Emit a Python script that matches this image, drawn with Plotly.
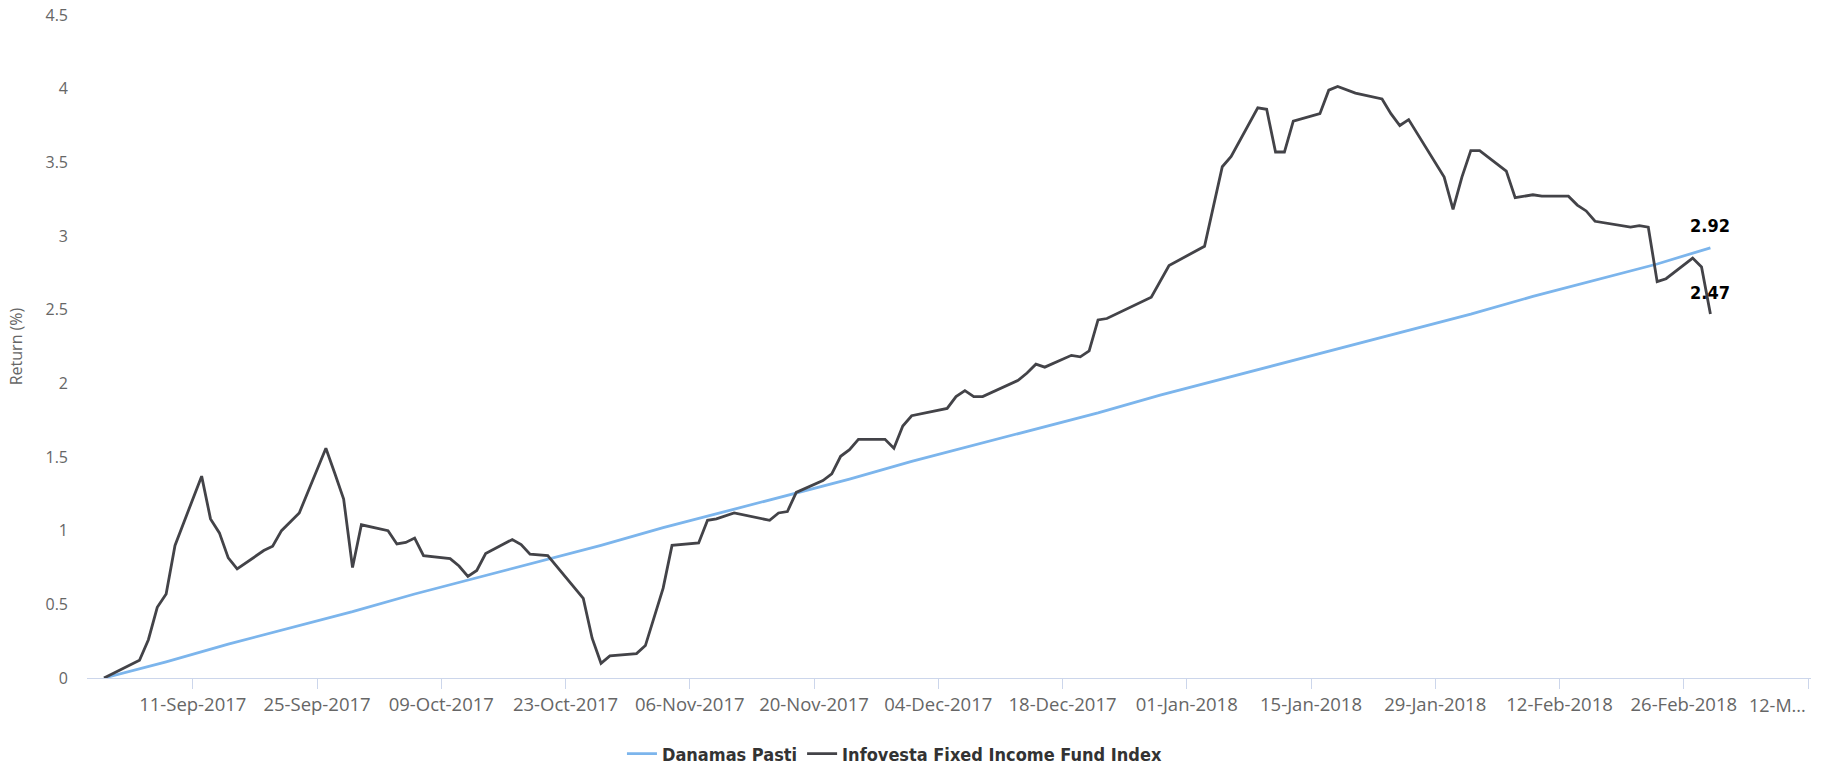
import plotly.graph_objects as go

# Danamas Pasti cumulative return (%)
fund_dates = [
    "2017-09-01", "2017-09-08", "2017-09-15", "2017-09-22", "2017-09-29",
    "2017-10-06", "2017-10-13", "2017-10-20", "2017-10-27", "2017-11-03",
    "2017-11-10", "2017-11-17", "2017-11-24", "2017-12-01", "2017-12-08",
    "2017-12-15", "2017-12-22", "2017-12-29", "2018-01-05", "2018-01-12",
    "2018-01-19", "2018-01-26", "2018-02-02", "2018-02-09", "2018-02-16",
    "2018-02-23", "2018-03-01",
]
fund_return = [
    0.00, 0.11, 0.23, 0.34, 0.45,
    0.57, 0.68, 0.79, 0.90, 1.02,
    1.13, 1.24, 1.35, 1.47, 1.58,
    1.69, 1.80, 1.92, 2.03, 2.14,
    2.25, 2.36, 2.47, 2.59, 2.70,
    2.81, 2.92,
]

# Infovesta Fixed Income Fund Index cumulative return (%)
index_dates = [
    "2017-09-01", "2017-09-05", "2017-09-06", "2017-09-07", "2017-09-08",
    "2017-09-09", "2017-09-12", "2017-09-13", "2017-09-14", "2017-09-15",
    "2017-09-16", "2017-09-19", "2017-09-20", "2017-09-21", "2017-09-23",
    "2017-09-26", "2017-09-27", "2017-09-28", "2017-09-29", "2017-09-30",
    "2017-10-03", "2017-10-04", "2017-10-05", "2017-10-06", "2017-10-07",
    "2017-10-10", "2017-10-11", "2017-10-12", "2017-10-13", "2017-10-14",
    "2017-10-17", "2017-10-18", "2017-10-19", "2017-10-21", "2017-10-25",
    "2017-10-26", "2017-10-27", "2017-10-28", "2017-10-31", "2017-11-01",
    "2017-11-03", "2017-11-04", "2017-11-07", "2017-11-08", "2017-11-09",
    "2017-11-11", "2017-11-15", "2017-11-16", "2017-11-17", "2017-11-18",
    "2017-11-21", "2017-11-22", "2017-11-23", "2017-11-24", "2017-11-25",
    "2017-11-28", "2017-11-29", "2017-11-30", "2017-12-01", "2017-12-05",
    "2017-12-06", "2017-12-07", "2017-12-08", "2017-12-09", "2017-12-13",
    "2017-12-14", "2017-12-15", "2017-12-16", "2017-12-19", "2017-12-20",
    "2017-12-21", "2017-12-22", "2017-12-23", "2017-12-28", "2017-12-30",
    "2018-01-03", "2018-01-05", "2018-01-06", "2018-01-09", "2018-01-10",
    "2018-01-11", "2018-01-12", "2018-01-13", "2018-01-16", "2018-01-17",
    "2018-01-18", "2018-01-20", "2018-01-23", "2018-01-24", "2018-01-25",
    "2018-01-26", "2018-01-30", "2018-01-31", "2018-02-01", "2018-02-02",
    "2018-02-03", "2018-02-06", "2018-02-07", "2018-02-09", "2018-02-10",
    "2018-02-13", "2018-02-14", "2018-02-15", "2018-02-16", "2018-02-20",
    "2018-02-21", "2018-02-22", "2018-02-23", "2018-02-24", "2018-02-27",
    "2018-02-28", "2018-03-01",
]
index_return = [
    0.00, 0.12, 0.26, 0.48, 0.57,
    0.90, 1.37, 1.08, 0.985, 0.815,
    0.74, 0.865, 0.894, 1.00, 1.12,
    1.56, 1.39, 1.215, 0.75, 1.04,
    1.00, 0.91, 0.92, 0.95, 0.83,
    0.81, 0.76, 0.69, 0.73, 0.845,
    0.94, 0.905, 0.84, 0.83, 0.54,
    0.27, 0.10, 0.15, 0.166, 0.22,
    0.61, 0.90, 0.917, 1.07, 1.08,
    1.12, 1.07, 1.12, 1.13, 1.26,
    1.34, 1.385, 1.505, 1.55, 1.62,
    1.62, 1.56, 1.71, 1.78, 1.83,
    1.91, 1.95, 1.91, 1.91, 2.02,
    2.07, 2.13, 2.11, 2.19, 2.18,
    2.22, 2.43, 2.44, 2.585, 2.80,
    2.93, 3.47, 3.54, 3.87, 3.86,
    3.57, 3.57, 3.78, 3.83, 3.99,
    4.015, 3.97, 3.93, 3.83, 3.75,
    3.79, 3.40, 3.18, 3.40, 3.58,
    3.58, 3.44, 3.26, 3.28, 3.27,
    3.27, 3.21, 3.17, 3.10, 3.06,
    3.07, 3.06, 2.69, 2.71, 2.85,
    2.79, 2.47,
]

# x-axis ticks (every two weeks)
tick_dates = [
    "2017-09-11", "2017-09-25", "2017-10-09", "2017-10-23", "2017-11-06",
    "2017-11-20", "2017-12-04", "2017-12-18", "2018-01-01", "2018-01-15",
    "2018-01-29", "2018-02-12", "2018-02-26", "2018-03-12",
]
tick_labels = [
    "11-Sep-2017", "25-Sep-2017", "09-Oct-2017", "23-Oct-2017", "06-Nov-2017",
    "20-Nov-2017", "04-Dec-2017", "18-Dec-2017", "01-Jan-2018", "15-Jan-2018",
    "29-Jan-2018", "12-Feb-2018", "26-Feb-2018", "",
]
last_tick_label = "12-M..."

FUND_COLOR = "#7cb5ec"
INDEX_COLOR = "#434348"
AXIS_COLOR = "#ccd6eb"
LABEL_COLOR = "#666666"
NARROW = "Liberation Sans Narrow, DejaVu Sans Condensed, Arial Narrow, sans-serif"

fig = go.Figure()
fig.add_trace(go.Scatter(
    x=fund_dates, y=fund_return, name="Danamas Pasti", mode="lines",
    line=dict(color=FUND_COLOR, width=2.8),
))
fig.add_trace(go.Scatter(
    x=index_dates, y=index_return, name="Infovesta Fixed Income Fund Index",
    mode="lines", line=dict(color=INDEX_COLOR, width=2.8),
))

# value labels at the last point of each series
for xs, ys in ((fund_dates, fund_return), (index_dates, index_return)):
    fig.add_annotation(
        x=xs[-1], y=ys[-1], text=f"{ys[-1]:.2f}", showarrow=False,
        yshift=22, font=dict(family=NARROW, size=18, color="#000000", weight="bold"),
    )

# truncated label for the last tick at the right edge
fig.add_annotation(
    x=tick_dates[-1], xref="x", y=0, yref="paper", yanchor="top", xanchor="right",
    yshift=-13, text=last_tick_label, showarrow=False,
    font=dict(family="Open Sans", size=18, color=LABEL_COLOR),
)

fig.update_layout(
    width=1825, height=765,
    margin=dict(l=87, r=14, t=15, b=87, autoexpand=False),
    paper_bgcolor="white", plot_bgcolor="white",
    showlegend=True,
    legend=dict(
        orientation="h", xref="container", x=0.3408, xanchor="left",
        yref="container", y=0.0144, yanchor="middle",
        font=dict(family=NARROW, size=18, color="#333333", weight="bold"),
        itemwidth=30,
    ),
    xaxis=dict(
        type="date", automargin=False,
        range=["2017-08-30 02:00", "2018-03-12 08:00"],
        tickvals=tick_dates, ticktext=tick_labels,
        showgrid=False, zeroline=False,
        showline=True, linecolor=AXIS_COLOR, linewidth=1,
        ticks="outside", ticklen=10, tickcolor=AXIS_COLOR, tickwidth=1,
        tickfont=dict(family="Open Sans", size=18.5, color=LABEL_COLOR),
    ),
    yaxis=dict(
        automargin=False,
        range=[0, 4.5], tickvals=[0, 0.5, 1, 1.5, 2, 2.5, 3, 3.5, 4, 4.5],
        showgrid=False, zeroline=False, showline=False,
        ticklabelstandoff=18,
        tickfont=dict(family="Open Sans", size=16, color=LABEL_COLOR),
        title=dict(text="Return (%)", standoff=18,
                   font=dict(family="Open Sans", size=16, color=LABEL_COLOR)),
    ),
)

fig.write_html("out.html")
